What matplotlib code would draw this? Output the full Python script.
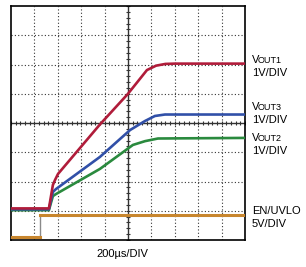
import numpy as np
import matplotlib
matplotlib.use('Agg')
import matplotlib.pyplot as plt

plt.rcParams['font.family'] = ['Liberation Sans', 'DejaVu Sans']

# scope traces, in divisions (10 x 8 grid)
t_red = [0, 1.62, 1.79, 1.88, 2.01, 3.80, 4.99, 5.81, 6.20, 6.60, 7.0, 10]
v_red = [1.08, 1.08, 1.88, 2.05, 2.26, 3.95, 4.99, 5.81, 5.96, 6.02, 6.03, 6.03]

t_blue = [0, 1.62, 1.79, 1.92, 3.80, 5.09, 5.73, 6.15, 6.58, 10]
v_blue = [1.05, 1.05, 1.64, 1.74, 2.84, 3.76, 4.07, 4.24, 4.29, 4.29]

t_green = [0, 1.62, 1.79, 1.92, 3.80, 5.21, 5.73, 6.28, 10]
v_green = [1.02, 1.02, 1.50, 1.57, 2.43, 3.25, 3.38, 3.47, 3.49]

t_en = [0, 1.23, 1.23, 10]
v_en = [0.10, 0.10, 0.865, 0.865]

labels = [('V', 'OUT1', '1V/DIV', 60), ('V', 'OUT3', '1V/DIV', 107),
          ('V', 'OUT2', '1V/DIV', 138), ('EN/UVLO', '', '5V/DIV', 211)]

W, H = 306, 267
fig = plt.figure(figsize=(W / 100, H / 100), dpi=100)
ax = fig.add_axes([11 / W, 1 - 240 / H, 234 / W, 234 / H])
ax.set_xlim(0, 10)
ax.set_ylim(0, 8)

# graticule
for i in range(1, 10):
    if i != 5:
        ax.axvline(i, color='#333333', lw=0.8, ls=(0, (1, 2)), zorder=1)
for j in range(1, 8):
    if j != 4:
        ax.axhline(j, color='#333333', lw=0.8, ls=(0, (1, 2)), zorder=1)
ax.axvline(5, color='#333333', lw=1.0, zorder=1)
ax.axhline(4, color='#333333', lw=1.0, zorder=1)
ticks_x = np.arange(0, 10.01, 0.2)
ticks_y = np.arange(0, 8.01, 0.2)
ax.plot(ticks_x, np.full_like(ticks_x, 4), ls='none', marker='|', ms=3.5,
        mew=0.8, color='#333333', zorder=1)
ax.plot(np.full_like(ticks_y, 5), ticks_y, ls='none', marker='_', ms=3.5,
        mew=0.8, color='#333333', zorder=1)

# traces
ax.plot(t_en, v_en, color='#8a8a8a', lw=1.0, zorder=2)
ax.plot(t_en[:2], v_en[:2], color='#c8862e', lw=2.2, zorder=3)
ax.plot(t_en[2:], v_en[2:], color='#c8862e', lw=2.2, zorder=3)
ax.plot(t_green, v_green, color='#2a8a3e', lw=1.9, zorder=4)
ax.plot(t_blue, v_blue, color='#3150a8', lw=1.9, zorder=5)
ax.plot(t_red, v_red, color='#b01c3a', lw=1.9, zorder=6)

ax.set_xticks([])
ax.set_yticks([])
for s in ax.spines.values():
    s.set_color('black')
    s.set_linewidth(1.2)

# right-hand labels
for big, small, scale, y in labels:
    fig.text(252 / W, 1 - y / H, big, fontsize=8, va='center', ha='left')
    if small:
        fig.text(258 / W, 1 - (y + 0.5) / H, small, fontsize=6.5,
                 va='center', ha='left')
    fig.text(252 / W, 1 - (y + 13) / H, scale, fontsize=8, va='center', ha='left')

fig.text(122 / W, 1 - 254 / H, '200µs/DIV', fontsize=8, va='center', ha='center')

fig.savefig('out.png', dpi=100)
